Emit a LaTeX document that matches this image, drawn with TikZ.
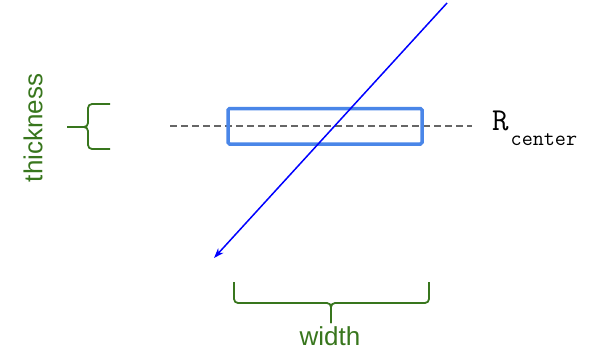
\documentclass[tikz,border=0pt]{standalone}
\usepackage{fontspec}
\setmainfont{Liberation Sans}
\usetikzlibrary{arrows.meta}

\definecolor{bracegreen}{HTML}{38761D}
\definecolor{slabblue}{HTML}{4A86E8}
\definecolor{axisgray}{HTML}{666666}

\begin{document}
\begin{tikzpicture}[
    x=1pt, y=-1pt,
    slab/.style={rectangle, draw=slabblue, line width=3.5pt, rounded corners=1.5pt, minimum width=194pt, minimum height=35.5pt, inner sep=0pt},
    axisline/.style={draw=axisgray, line width=1.8pt, dash pattern=on 7pt off 4pt},
    ray/.style={draw=blue, line width=1.5pt, -{Stealth[length=10pt, width=7pt, inset=3pt]}},
    brace/.style={draw=bracegreen, line width=1.8pt, rounded corners=4pt},
    lbl/.style={text=bracegreen, font=\fontsize{26}{30}\selectfont, inner sep=0pt}
]
\useasboundingbox (0,0) rectangle (601,351);

% dashed centre line and slab
\coordinate (axisL) at (170,126);
\coordinate (axisR) at (472,126);
\draw[axisline] (axisL) -- (axisR);
\node[slab] (slab) at (325,126.25) {};

% incoming ray
\coordinate (rayin)  at (447,3);
\coordinate (rayout) at (214,258);
\draw[ray] (rayin) -- (rayout);

% R_center label
\node[anchor=base west, inner sep=0pt] (rc) at (492,130)
  {\ttfamily\fontsize{32}{32}\selectfont R\hspace{2pt}\raisebox{-15pt}{\fontsize{21.5}{21.5}\selectfont center}};

% thickness brace
\draw[brace] (110,104) -- (88,104) -- (88,127) -- (67,127);
\draw[brace] (110,149) -- (88,149) -- (88,127) -- (67,127);
\node[lbl, rotate=90] (thick) at (33,128) {thickness};

% width brace
\draw[brace] (234,282) -- (234,303) -- (331,303) -- (331,323);
\draw[brace] (429,282) -- (429,303) -- (331,303) -- (331,323);
\node[lbl] (wide) at (330,336.5) {width};

\end{tikzpicture}
\end{document}
